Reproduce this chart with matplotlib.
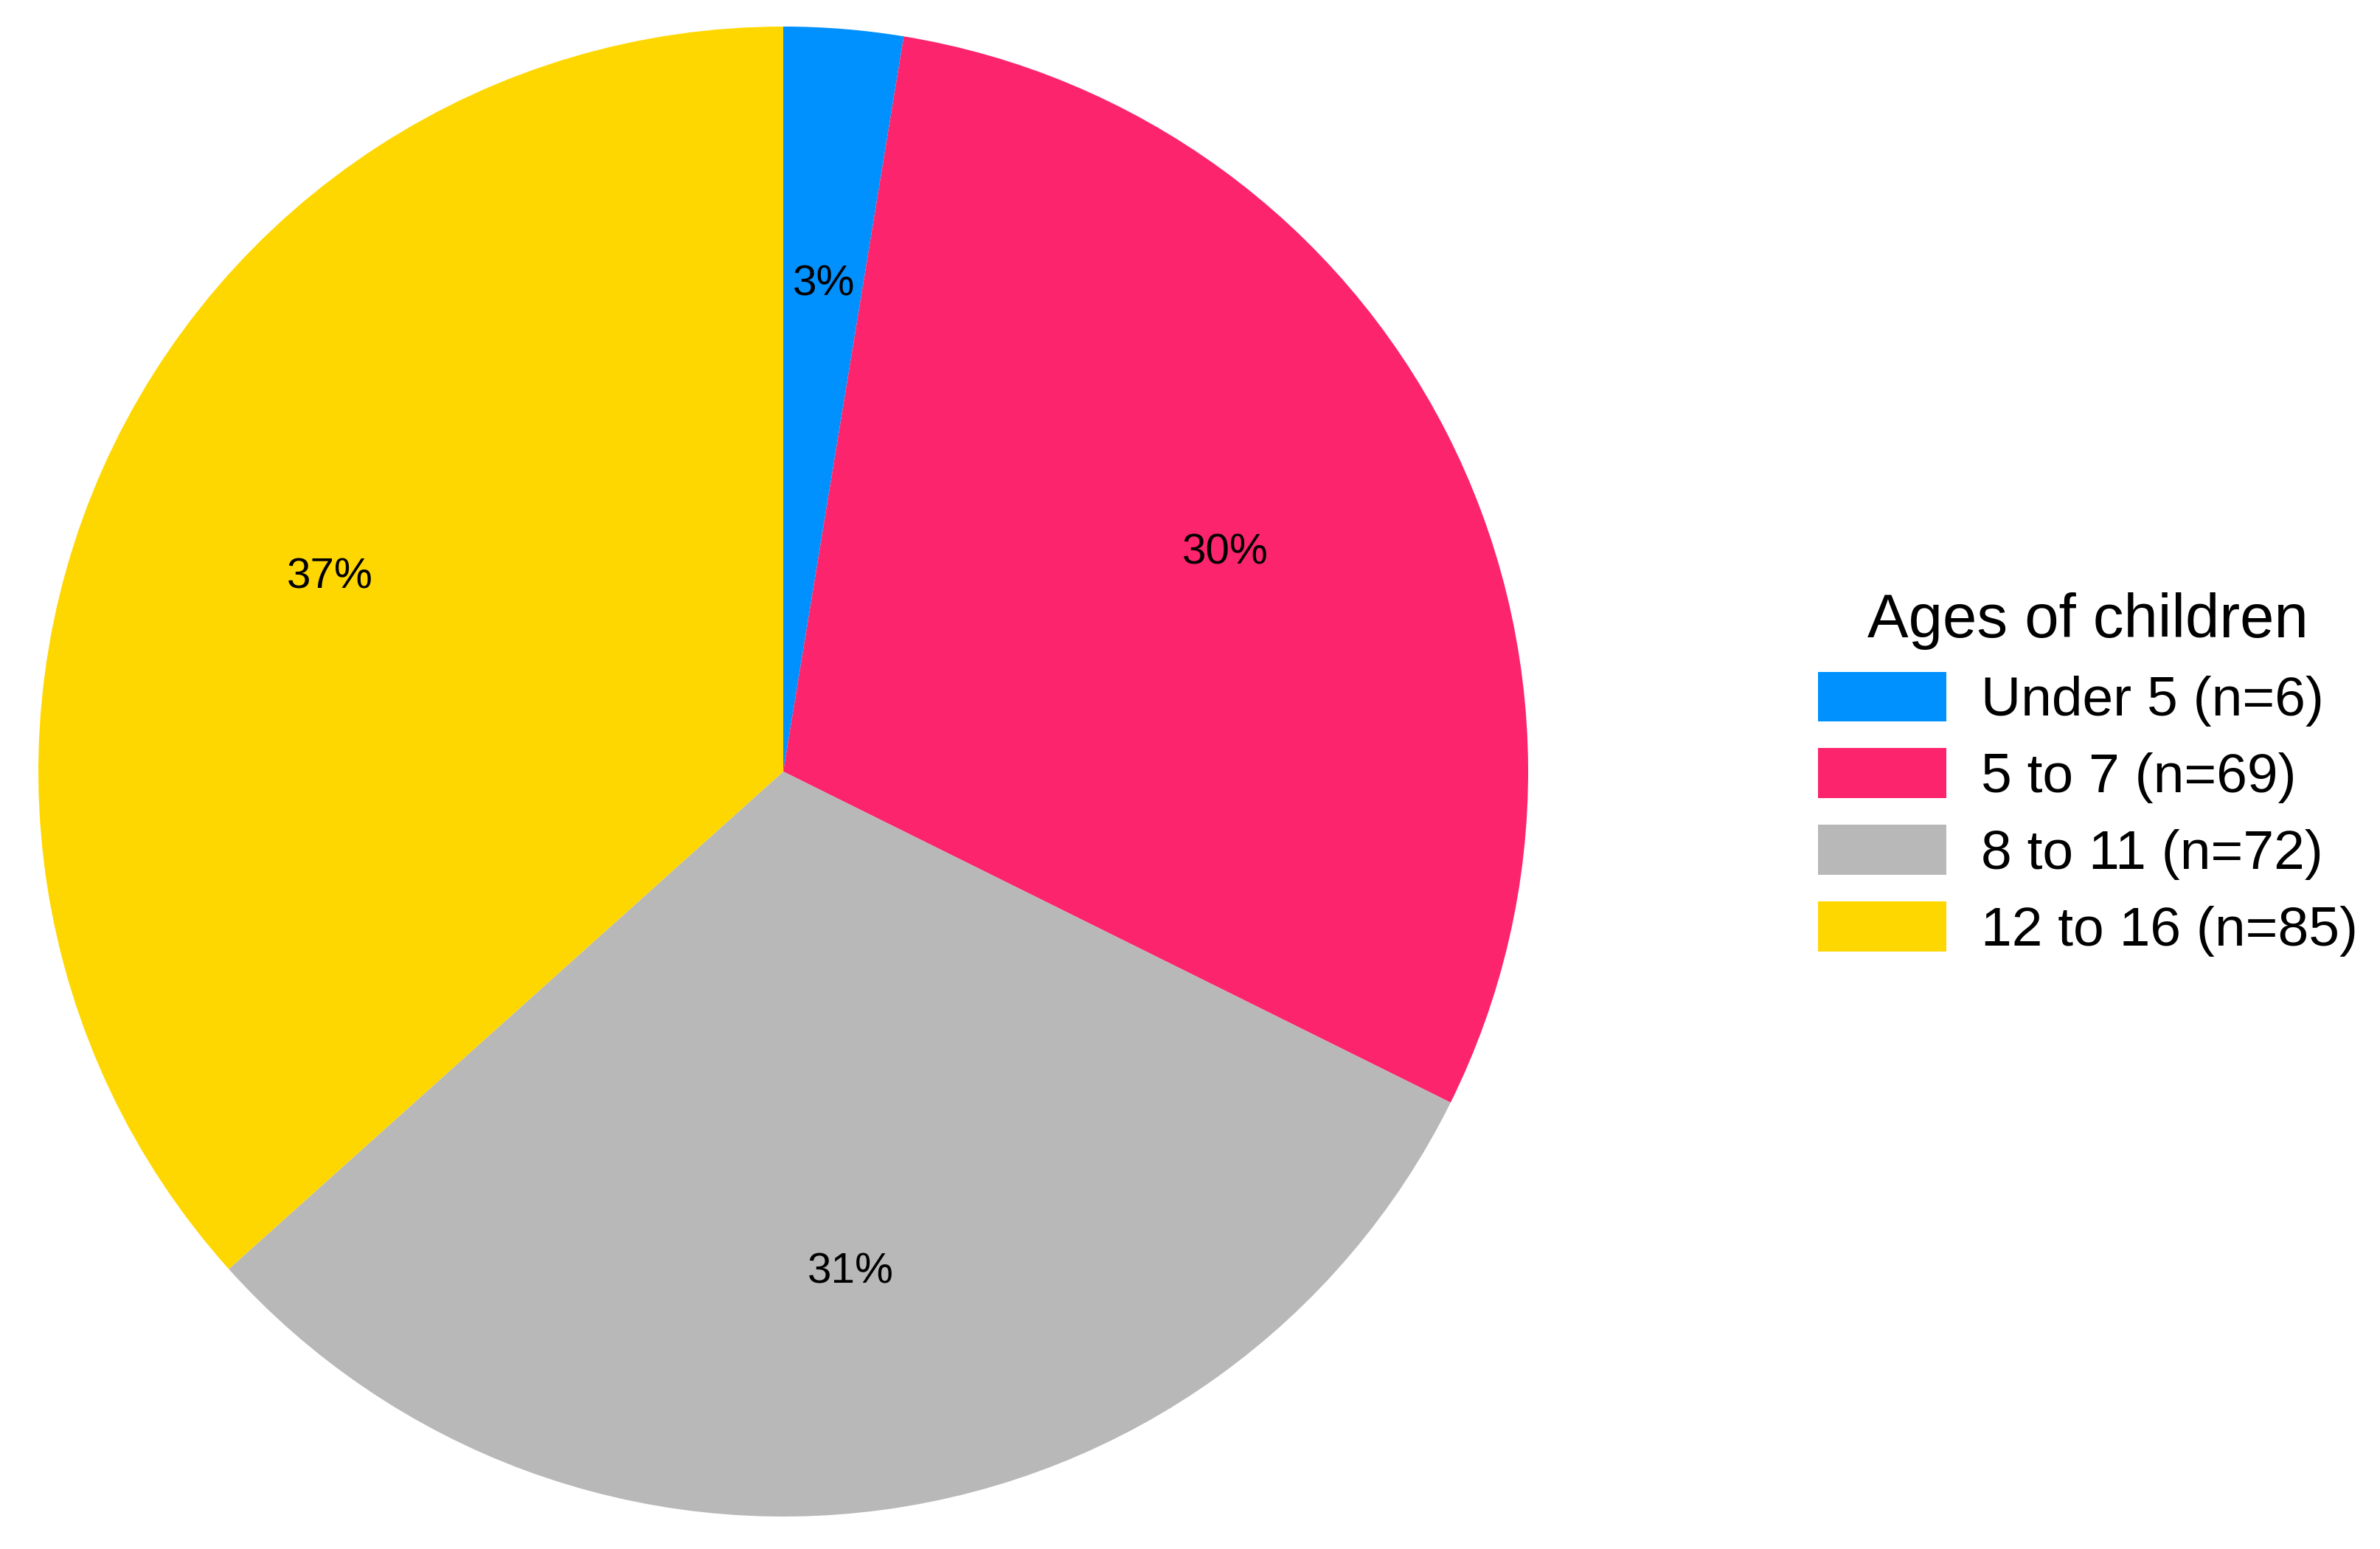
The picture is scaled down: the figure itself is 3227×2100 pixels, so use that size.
import matplotlib
matplotlib.use("Agg")
import matplotlib.pyplot as plt
from matplotlib.patches import Patch

plt.rcParams['font.family'] = ['Liberation Sans', 'DejaVu Sans']

groups = ['Under 5', '5 to 7', '8 to 11', '12 to 16']
counts = [6, 69, 72, 85]
colors = ['#0091FF', '#FC246C', '#B8B8B8', '#FFD700']
legend_title = 'Ages of children'

labels = [f'{g} (n={n})' for g, n in zip(groups, counts)]

W, H = 3227, 2100
fig = plt.figure(figsize=(W / 100, H / 100), dpi=100)

# pie centred at (1062, 1046) px with radius ~1010 px
r = 1010
ax = fig.add_axes([(1062 - r) / W, (H - 1046 - r) / H, 2 * r / W, 2 * r / H])
wedges, texts, autotexts = ax.pie(
    counts, colors=colors, startangle=90, counterclock=False,
    autopct=lambda p: f'{p:.0f}%', pctdistance=0.667, radius=1,
    wedgeprops=dict(linewidth=0),
    textprops=dict(fontsize=42, color='black'))
for t in autotexts:
    x, y = t.get_position()
    t.set_position((x, y - 0.011))
ax.set_xlim(-1, 1)
ax.set_ylim(-1, 1)
ax.set_aspect('equal')
ax.axis('off')

handles = [Patch(facecolor=c, edgecolor='none') for c in colors]
leg = fig.legend(handles, labels, title=legend_title, loc='center left',
                 bbox_to_anchor=(2465 / W, 1 - 1050 / H), frameon=False,
                 fontsize=54, title_fontsize=60, handlelength=2.32,
                 handleheight=1.013, handletextpad=0.62, labelspacing=0.39,
                 borderpad=0, borderaxespad=0, alignment='center')

fig.savefig('out.png', dpi=100, facecolor='white')
